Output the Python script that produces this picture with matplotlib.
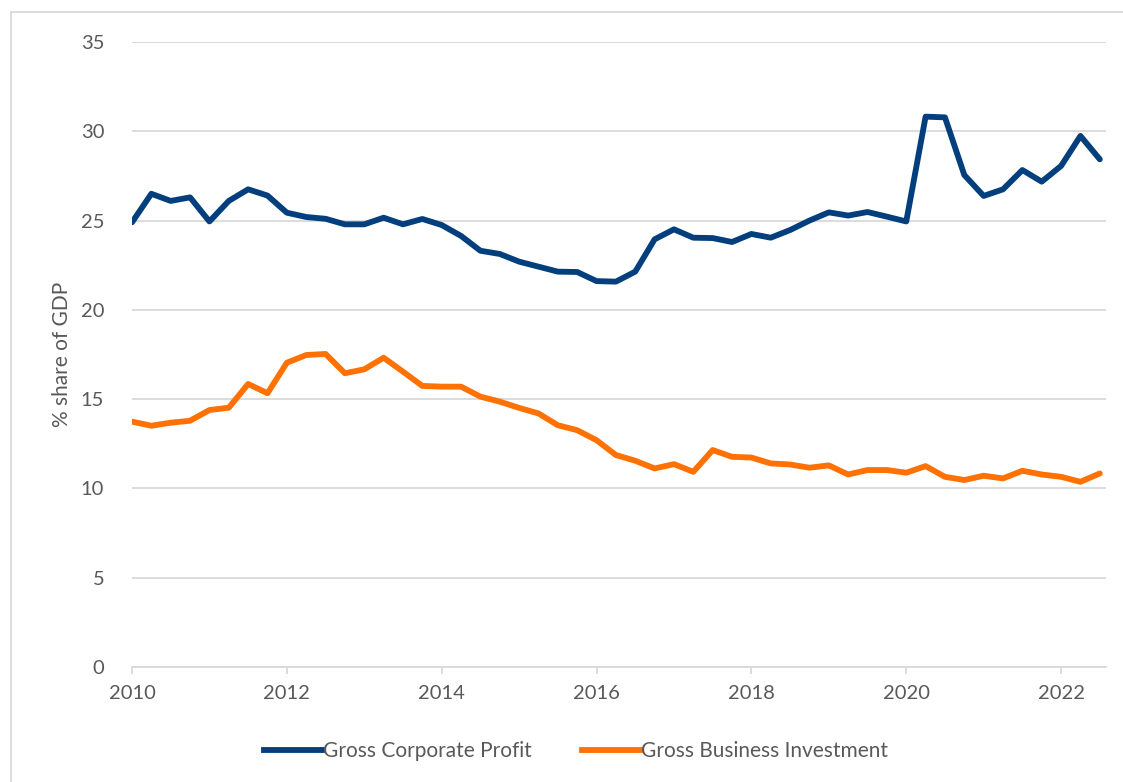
import numpy as np
import matplotlib
matplotlib.use("Agg")
import matplotlib.pyplot as plt
from matplotlib.lines import Line2D

plt.rcParams['font.family'] = ['Lato', 'DejaVu Sans']

# quarterly, 2010 Q1 .. 2022 Q3
start_year = 2010
profit = [24.9, 26.5, 26.1, 26.3, 24.95, 26.1, 26.75, 26.4, 25.44, 25.2,
          25.1, 24.79, 24.79, 25.16, 24.79, 25.09, 24.75, 24.14, 23.31, 23.13,
          22.7, 22.42, 22.14, 22.12, 21.61, 21.58, 22.14, 23.95, 24.51, 24.04,
          24.02, 23.8, 24.25, 24.04, 24.47, 25.0, 25.46, 25.28, 25.48, 25.22,
          24.95, 30.82, 30.78, 27.55, 26.38, 26.75, 27.83, 27.18, 28.06, 29.74,
          28.43]
investment = [13.74, 13.51, 13.68, 13.79, 14.39, 14.52, 15.85, 15.33, 17.04, 17.47,
              17.53, 16.45, 16.67, 17.32, 16.54, 15.74, 15.7, 15.7, 15.14, 14.86,
              14.51, 14.2, 13.54, 13.26, 12.7, 11.87, 11.55, 11.12, 11.36, 10.93,
              12.15, 11.77, 11.73, 11.4, 11.34, 11.16, 11.29, 10.78, 11.03, 11.03,
              10.88, 11.25, 10.65, 10.47, 10.71, 10.56, 10.99, 10.78, 10.65, 10.37,
              10.84]
labels = ["Gross Corporate Profit", "Gross Business Investment"]
colors = ["#023F7C", "#FF7103"]

x = start_year + np.arange(len(profit)) / 4.0

W, H = 1123, 782
fig = plt.figure(figsize=(W / 100, H / 100), dpi=100)
ax = fig.add_axes([132 / W, 1 - 667 / H, (1106 - 132) / W, (667 - 42) / H])

grey = "#595959"
fs = 14.5
ax.plot(x, profit, color=colors[0], lw=4.2, solid_joinstyle='round', solid_capstyle='round', zorder=3)
ax.plot(x, investment, color=colors[1], lw=4.2, solid_joinstyle='round', solid_capstyle='round', zorder=3)

ax.set_xlim(2010, 2022.58)
ax.set_ylim(0, 35)
ax.set_yticks(range(0, 36, 5))
ax.set_xticks(range(2010, 2023, 2))
ax.grid(axis='y', color="#D9D9D9", lw=1.3)
ax.set_axisbelow(True)
for s in ['top', 'right', 'left']:
    ax.spines[s].set_visible(False)
ax.spines['bottom'].set_color("#D9D9D9")
ax.spines['bottom'].set_linewidth(1.3)
ax.tick_params(axis='y', length=0, pad=20, labelsize=fs, labelcolor=grey)
ax.tick_params(axis='x', length=5, width=1.3, color="#D9D9D9", pad=8,
               labelsize=fs, labelcolor=grey)
ax.set_ylabel("% share of GDP", fontsize=15, color=grey, labelpad=6)

handles = [Line2D([], [], color=c, lw=4.2) for c in colors]
fig.legend(handles, labels, loc='center', bbox_to_anchor=(0.513, 1 - 751 / H),
           ncol=2, frameon=False, fontsize=15, labelcolor=grey,
           handlelength=2.8, handletextpad=0.05, columnspacing=2.4)

# chart area border (left and top edges)
fig.add_artist(Line2D([11 / W, 11 / W], [0, 1 - 12 / H], color="#D9D9D9", lw=1.3,
                      transform=fig.transFigure))
fig.add_artist(Line2D([11 / W, 1], [1 - 12 / H, 1 - 12 / H], color="#D9D9D9", lw=1.3,
                      transform=fig.transFigure))

fig.savefig("out.png", dpi=100)
